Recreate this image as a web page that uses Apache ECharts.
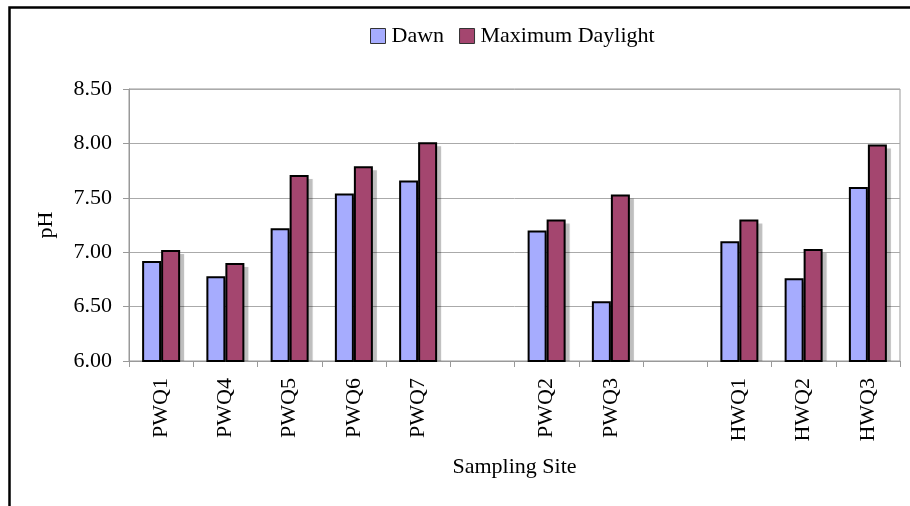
<!DOCTYPE html>
<html>
<head>
<meta charset="utf-8">
<script src="https://cdn.jsdelivr.net/npm/echarts@6/dist/echarts.min.js"></script>
<style>
  html, body { margin: 0; padding: 0; background: #fff; }
  #chart { width: 910px; height: 506px; }
</style>
</head>
<body>
<div id="chart"></div>
<script>
// Sampling sites; empty strings leave gaps between site groups
const sites = ['PWQ1', 'PWQ4', 'PWQ5', 'PWQ6', 'PWQ7', '', 'PWQ2', 'PWQ3', '', 'HWQ1', 'HWQ2', 'HWQ3'];
const dawnPH = [6.92, 6.78, 7.22, 7.54, 7.66, null, 7.20, 6.55, null, 7.10, 6.76, 7.60];
const daylightPH = [7.02, 6.90, 7.71, 7.79, 8.01, null, 7.30, 7.53, null, 7.30, 7.03, 7.99];
const yTicks = { min: 6.0, max: 8.5, step: 0.5 };

const FONT = '"Liberation Serif", "Times New Roman", serif';
const FS = 22;
const BAR_W = 19;
const SHADOW_OFF = 4;

const chart = echarts.init(document.getElementById('chart'), null, { renderer: 'canvas' });

// Soft drop shadow behind each pair of bars, placed through the axis scales
const shadowData = sites.map((s, i) => [i, dawnPH[i], daylightPH[i]]);
function renderShadow(params, api) {
  const idx = api.value(0);
  const base = api.coord([idx, yTicks.min]);
  const children = [];
  [api.value(1), api.value(2)].forEach((v, k) => {
    if (v == null || isNaN(v)) return;
    const top = api.coord([idx, v]);
    const x = base[0] - BAR_W + k * BAR_W + SHADOW_OFF;
    const y = top[1] + SHADOW_OFF;
    children.push({
      type: 'rect',
      shape: { x: x, y: y, width: BAR_W, height: base[1] - y },
      style: { fill: 'rgba(0,0,0,0.22)', shadowColor: 'rgba(0,0,0,0.2)', shadowBlur: 2 }
    });
  });
  return { type: 'group', children: children };
}

chart.setOption({
  animation: false,
  backgroundColor: '#fff',
  textStyle: { fontFamily: FONT, color: '#000' },
  graphic: [
    {
      type: 'polyline',
      silent: true,
      shape: { points: [[9.5, 506], [9.5, 7.5], [910, 7.5]] },
      style: { stroke: '#000', lineWidth: 2.5, fill: null }
    }
  ],
  legend: {
    top: 20,
    left: 365,
    icon: 'rect',
    itemWidth: 15,
    itemHeight: 15,
    itemGap: 15,
    textStyle: { fontFamily: FONT, fontSize: 22, color: '#000', padding: [0, 0, 0, 1] },
    itemStyle: { borderWidth: 1, borderColor: '#333' },
    data: ['Dawn', 'Maximum Daylight']
  },
  grid: {
    left: 129, top: 89, right: 10, bottom: 145,
    show: true,
    borderColor: '#999',
    borderWidth: 1
  },
  xAxis: {
    type: 'category',
    data: sites,
    name: 'Sampling Site',
    nameLocation: 'middle',
    nameGap: 95,
    nameTextStyle: { fontFamily: FONT, fontSize: FS, color: '#000' },
    axisLine: { lineStyle: { color: '#999', width: 1 } },
    axisTick: { show: true, length: 6, lineStyle: { color: '#999' } },
    axisLabel: {
      rotate: 90,
      margin: 17,
      interval: 0,
      fontFamily: FONT,
      fontSize: FS,
      color: '#000'
    },
    splitLine: { show: false }
  },
  yAxis: {
    type: 'value',
    min: yTicks.min,
    max: yTicks.max,
    interval: yTicks.step,
    name: 'pH',
    nameLocation: 'middle',
    nameRotate: 90,
    nameGap: 72,
    nameTextStyle: { fontFamily: FONT, fontSize: FS, color: '#000' },
    axisLine: { show: true, lineStyle: { color: '#999', width: 1 } },
    axisTick: { show: true, length: 6, lineStyle: { color: '#999' } },
    axisLabel: {
      margin: 17,
      fontFamily: FONT,
      fontSize: FS,
      color: '#000',
      formatter: (v) => v.toFixed(2)
    },
    splitLine: { show: true, lineStyle: { color: '#aaa', width: 1 } }
  },
  series: [
    {
      name: 'shadow',
      type: 'custom',
      renderItem: renderShadow,
      data: shadowData,
      encode: { x: 0, y: [1, 2] },
      z: 1,
      silent: true,
      clip: true
    },
    {
      name: 'Dawn',
      type: 'bar',
      data: dawnPH,
      barWidth: BAR_W,
      barGap: '0%',
      z: 2,
      itemStyle: { color: '#A6ACFE', borderColor: '#000', borderWidth: 2 }
    },
    {
      name: 'Maximum Daylight',
      type: 'bar',
      data: daylightPH,
      barWidth: BAR_W,
      barGap: '0%',
      z: 2,
      itemStyle: { color: '#A4466F', borderColor: '#000', borderWidth: 2 }
    }
  ]
});
</script>
</body>
</html>
